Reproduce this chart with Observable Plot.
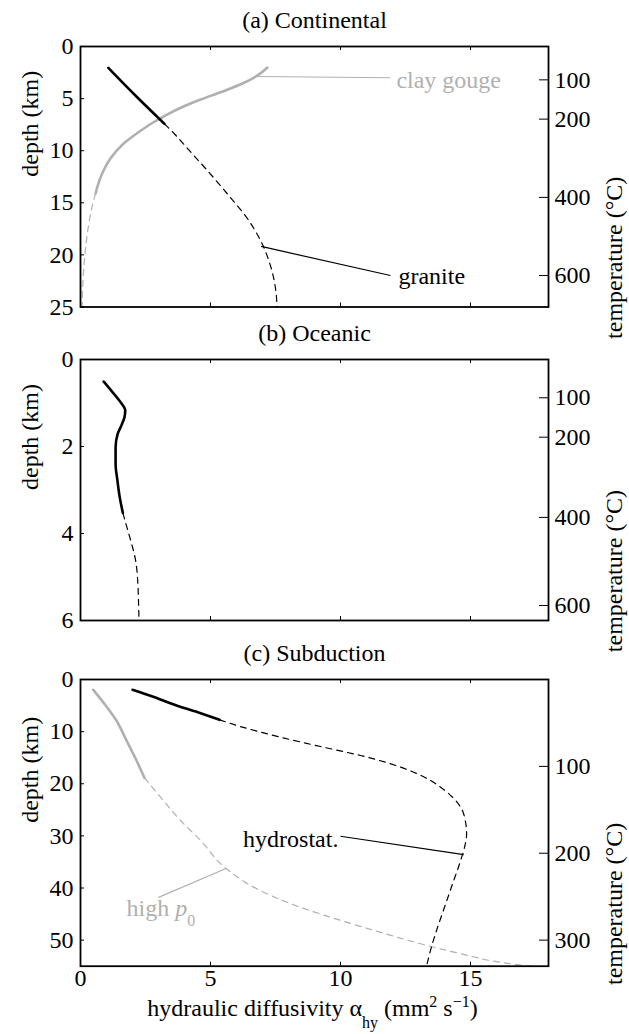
<!DOCTYPE html>
<html><head><meta charset="utf-8">
<script src="https://cdn.jsdelivr.net/npm/d3@7"></script>
<script src="https://cdn.jsdelivr.net/npm/@observablehq/plot@0.6"></script>
<style>
html,body{margin:0;padding:0;background:#fff;overflow:hidden;}
#chart{width:629px;}
#chart svg{font-family:"Liberation Serif","Times New Roman",Times,serif !important;font-size:24px !important;}
#chart svg text{font-family:"Liberation Serif","Times New Roman",Times,serif !important;}
</style></head><body><div id="chart"></div>
<script>
// ---------- shared ----------
const xTicks = [0, 5, 10, 15];
const xDomain = [0, 18];

// ---------- (a) Continental ----------
const depthTicksA = [0, 5, 10, 15, 20, 25];
const tempTicksA = [100, 200, 400, 600];
const tempTickDepthA = [3.2, 6.97, 14.48, 21.98];
const graniteSolid = [[1.07,2.05],[2.17,4.85],[3.23,7.42]];
const graniteDashed = [[3.23,7.42],[3.6,8.35],[4.05,9.6],[4.5,10.85],[4.95,12.1],[5.4,13.4],[5.85,14.75],[6.3,16.1],[6.7,17.6],[7.0,19.0],[7.25,20.6],[7.42,22.1],[7.52,23.6],[7.56,25]];
const claySolid = [[7.19,2.02],[6.81,2.78],[6.23,3.55],[5.46,4.32],[4.62,5.09],[3.88,5.85],[3.27,6.62],[2.73,7.39],[2.27,8.16],[1.62,9.4],[1.15,10.75],[0.85,12.09],[0.65,13.44],[0.58,14.11]];
const clayDashed = [[0.58,14.11],[0.48,15.0],[0.34,16.7],[0.23,18.6],[0.15,20.5],[0.09,22.8],[0.06,25]];
const labelsA = [
  {text: "clay gouge", x: 12.15, y: 3.26, gray: true},
  {text: "granite", x: 12.23, y: 22.1, gray: false}
];
const leadersA = [
  {x1: 6.77, y1: 2.88, x2: 11.92, y2: 3.0, gray: true},
  {x1: 6.95, y1: 19.19, x2: 11.92, y2: 21.98, gray: false}
];

// ---------- (b) Oceanic ----------
const depthTicksB = [0, 2, 4, 6];
const tempTicksB = [100, 200, 400, 600];
const tempTickDepthB = [0.88, 1.786, 3.63, 5.655];
const oceanSolid = [[0.89,0.506],[1.23,0.75],[1.54,0.98],[1.72,1.17],[1.69,1.33],[1.57,1.52],[1.43,1.71],[1.35,2.02],[1.35,2.4],[1.42,2.78],[1.51,3.17],[1.63,3.53]];
const oceanDashed = [[1.63,3.53],[1.82,3.93],[2.0,4.31],[2.12,4.62],[2.2,5.08],[2.23,5.54],[2.25,6]];

// ---------- (c) Subduction ----------
const depthTicksC = [0, 10, 20, 30, 40, 50];
const tempTicksC = [100, 200, 300];
const tempTickDepthC = [16.67, 33.33, 50];
const hydroSolid = [[2.0,1.98],[2.77,3.26],[3.69,4.99],[4.62,6.46],[5.35,7.74]];
const hydroDashed = [[5.35,7.74],[6.15,9.02],[7.69,11.07],[9.23,12.86],[10.77,14.58],[12.31,16.8],[13.23,18.74],[13.85,20.66],[14.31,22.58],[14.62,24.5],[14.8,27.05],[14.85,29.6],[14.77,32.2],[14.62,34.73],[14.31,39.2],[14.0,43.7],[13.69,48.2],[13.46,52.0],[13.31,55]];
const highSolid = [[0.49,1.98],[0.92,4.67],[1.38,7.87],[1.77,11.7],[2.15,15.5],[2.46,18.87]];
const highDashed = [[2.46,18.87],[3.08,22.58],[3.85,27.05],[4.62,30.9],[5.54,36.0],[6.92,40.5],[8.46,43.7],[10.0,46.2],[11.54,48.5],[13.08,50.7],[14.62,52.6],[16.15,54.24],[17.3,55]];
const hydroLabel = [{text: "hydrostat.", x: 9.92, y: 30.57}];
const highLabel = [{text: "HIGHP0", x: 1.77, y: 45.28}];
const leadersC = [
  {x1: 10.0, y1: 30.07, x2: 14.74, y2: 33.58, gray: false},
  {x1: 3.0, y1: 41.8, x2: 5.62, y2: 36.2, gray: true}
];

// ---------- styling ----------
const GRAY = "#b0b0b0";
const FONT = "'Liberation Serif','Times New Roman',Times,serif";
const SOLID_W = 2.6, DASH_W = 1.2, DASH = "6,5";

function solid(data, stroke) {
  return Plot.line(data, {x: d => d[0], y: d => d[1], stroke, strokeWidth: SOLID_W, curve: "monotone-y"});
}
function dashed(data, stroke) {
  return Plot.line(data, {x: d => d[0], y: d => d[1], stroke, strokeWidth: DASH_W, strokeDasharray: DASH, curve: "monotone-y"});
}
function leaders(data) {
  return Plot.link(data, {x1: "x1", y1: "y1", x2: "x2", y2: "y2", stroke: d => d.gray ? GRAY : "black", strokeWidth: 1.2});
}

function panel({height, marginTop, marginBottom, depthMax, depthTicks, tempTicks, tempDepths, title, marks, xLabels}) {
  const W = 629 - 80 - 81;
  const H = height - marginTop - marginBottom;
  const tempLabel = d => tempTicks[tempDepths.indexOf(d)];
  return Plot.plot({
    width: 629, height, marginLeft: 80, marginRight: 81, marginTop, marginBottom,
    style: {fontFamily: FONT, fontSize: "24px", background: "#fff", color: "#000", overflow: "visible"},
    x: {domain: xDomain, axis: null},
    y: {domain: [0, depthMax], reverse: true, axis: null},
    marks: [
      ...marks,
      Plot.tickX(xTicks.slice(1), {x: d => d, insetTop: H - 4, strokeWidth: 1}),
      Plot.tickX(xTicks.slice(1), {x: d => d, insetBottom: H - 4, strokeWidth: 1}),
      Plot.tickY(depthTicks, {y: d => d, insetRight: W - 4, strokeWidth: 1}),
      Plot.tickY(tempDepths, {y: d => d, insetLeft: W - 9, strokeWidth: 1}),
      Plot.axisY(depthTicks, {anchor: "left", tickSize: 0, tickPadding: 7, label: null, fontSize: 24}),
      Plot.axisY(tempDepths, {anchor: "right", tickSize: 0, tickPadding: 6, tickFormat: tempLabel, label: null, fontSize: 24}),
      xLabels ? Plot.axisX(xTicks, {anchor: "bottom", tickSize: 0, tickPadding: 3, label: null, fontSize: 24}) : null,
      xLabels ? Plot.text(["XLABEL"], {frameAnchor: "bottom", dy: 50, dx: -2, lineAnchor: "bottom", fontSize: 24}) : null,
      Plot.frame({stroke: "black", strokeWidth: 1.8}),
      Plot.text([title], {frameAnchor: "top", dy: -26, lineAnchor: "middle", fontSize: 24}),
      Plot.text(["depth (km)"], {frameAnchor: "left", dx: -50, rotate: -90, fontSize: 24}),
      Plot.text(["temperature (°C)"], {frameAnchor: "right", dx: 66, rotate: -90, fontSize: 24})
    ]
  });
}

function richText(svg, placeholder, parts) {
  for (const t of svg.querySelectorAll("text")) {
    if (t.textContent === placeholder) {
      while (t.firstChild) t.removeChild(t.firstChild);
      for (const p of parts) {
        const ts = document.createElementNS("http://www.w3.org/2000/svg", "tspan");
        ts.textContent = p.t;
        if (p.dy) ts.setAttribute("dy", p.dy);
        if (p.size) ts.setAttribute("font-size", p.size);
        if (p.italic) ts.setAttribute("font-style", "italic");
        t.appendChild(ts);
      }
    }
  }
}

const chart = document.getElementById("chart");

const svgA = panel({
  height: 330, marginTop: 46, marginBottom: 23.5, depthMax: 25,
  depthTicks: depthTicksA, tempTicks: tempTicksA, tempDepths: tempTickDepthA,
  title: "(a) Continental",
  marks: [
    dashed(clayDashed, GRAY), solid(claySolid, GRAY),
    dashed(graniteDashed, "black"), solid(graniteSolid, "black"),
    leaders(leadersA),
    Plot.text(labelsA, {x: "x", y: "y", text: "text", textAnchor: "start", fill: d => d.gray ? GRAY : "black", fontSize: 24})
  ]
});
chart.appendChild(svgA);

const svgB = panel({
  height: 310, marginTop: 29, marginBottom: 20, depthMax: 6,
  depthTicks: depthTicksB, tempTicks: tempTicksB, tempDepths: tempTickDepthB,
  title: "(b) Oceanic",
  marks: [dashed(oceanDashed, "black"), solid(oceanSolid, "black")]
});
chart.appendChild(svgB);

const svgC = panel({
  height: 394, marginTop: 39, marginBottom: 68.3, depthMax: 55,
  depthTicks: depthTicksC, tempTicks: tempTicksC, tempDepths: tempTickDepthC,
  title: "(c) Subduction", xLabels: true,
  marks: [
    dashed(highDashed, GRAY), solid(highSolid, GRAY),
    dashed(hydroDashed, "black"), solid(hydroSolid, "black"),
    leaders(leadersC),
    Plot.text(hydroLabel, {x: "x", y: "y", text: "text", textAnchor: "end", fill: "black", lineAnchor: "middle", fontSize: 24}),
    Plot.text(highLabel, {x: "x", y: "y", text: "text", textAnchor: "start", fill: GRAY, lineAnchor: "bottom", fontSize: 24})
  ]
});
chart.appendChild(svgC);

richText(svgC, "XLABEL", [
  {t: "hydraulic diffusivity α"}, {t: "hy", dy: 12, size: 16}, {t: " (mm", dy: -12},
  {t: "2", dy: -9, size: 16}, {t: " s", dy: 9}, {t: "−1", dy: -9, size: 16}, {t: ")", dy: 9}
]);
richText(svgC, "HIGHP0", [
  {t: "high "}, {t: "p", italic: true}, {t: "0", dy: 10, size: 16}
]);
</script>
</body></html>
